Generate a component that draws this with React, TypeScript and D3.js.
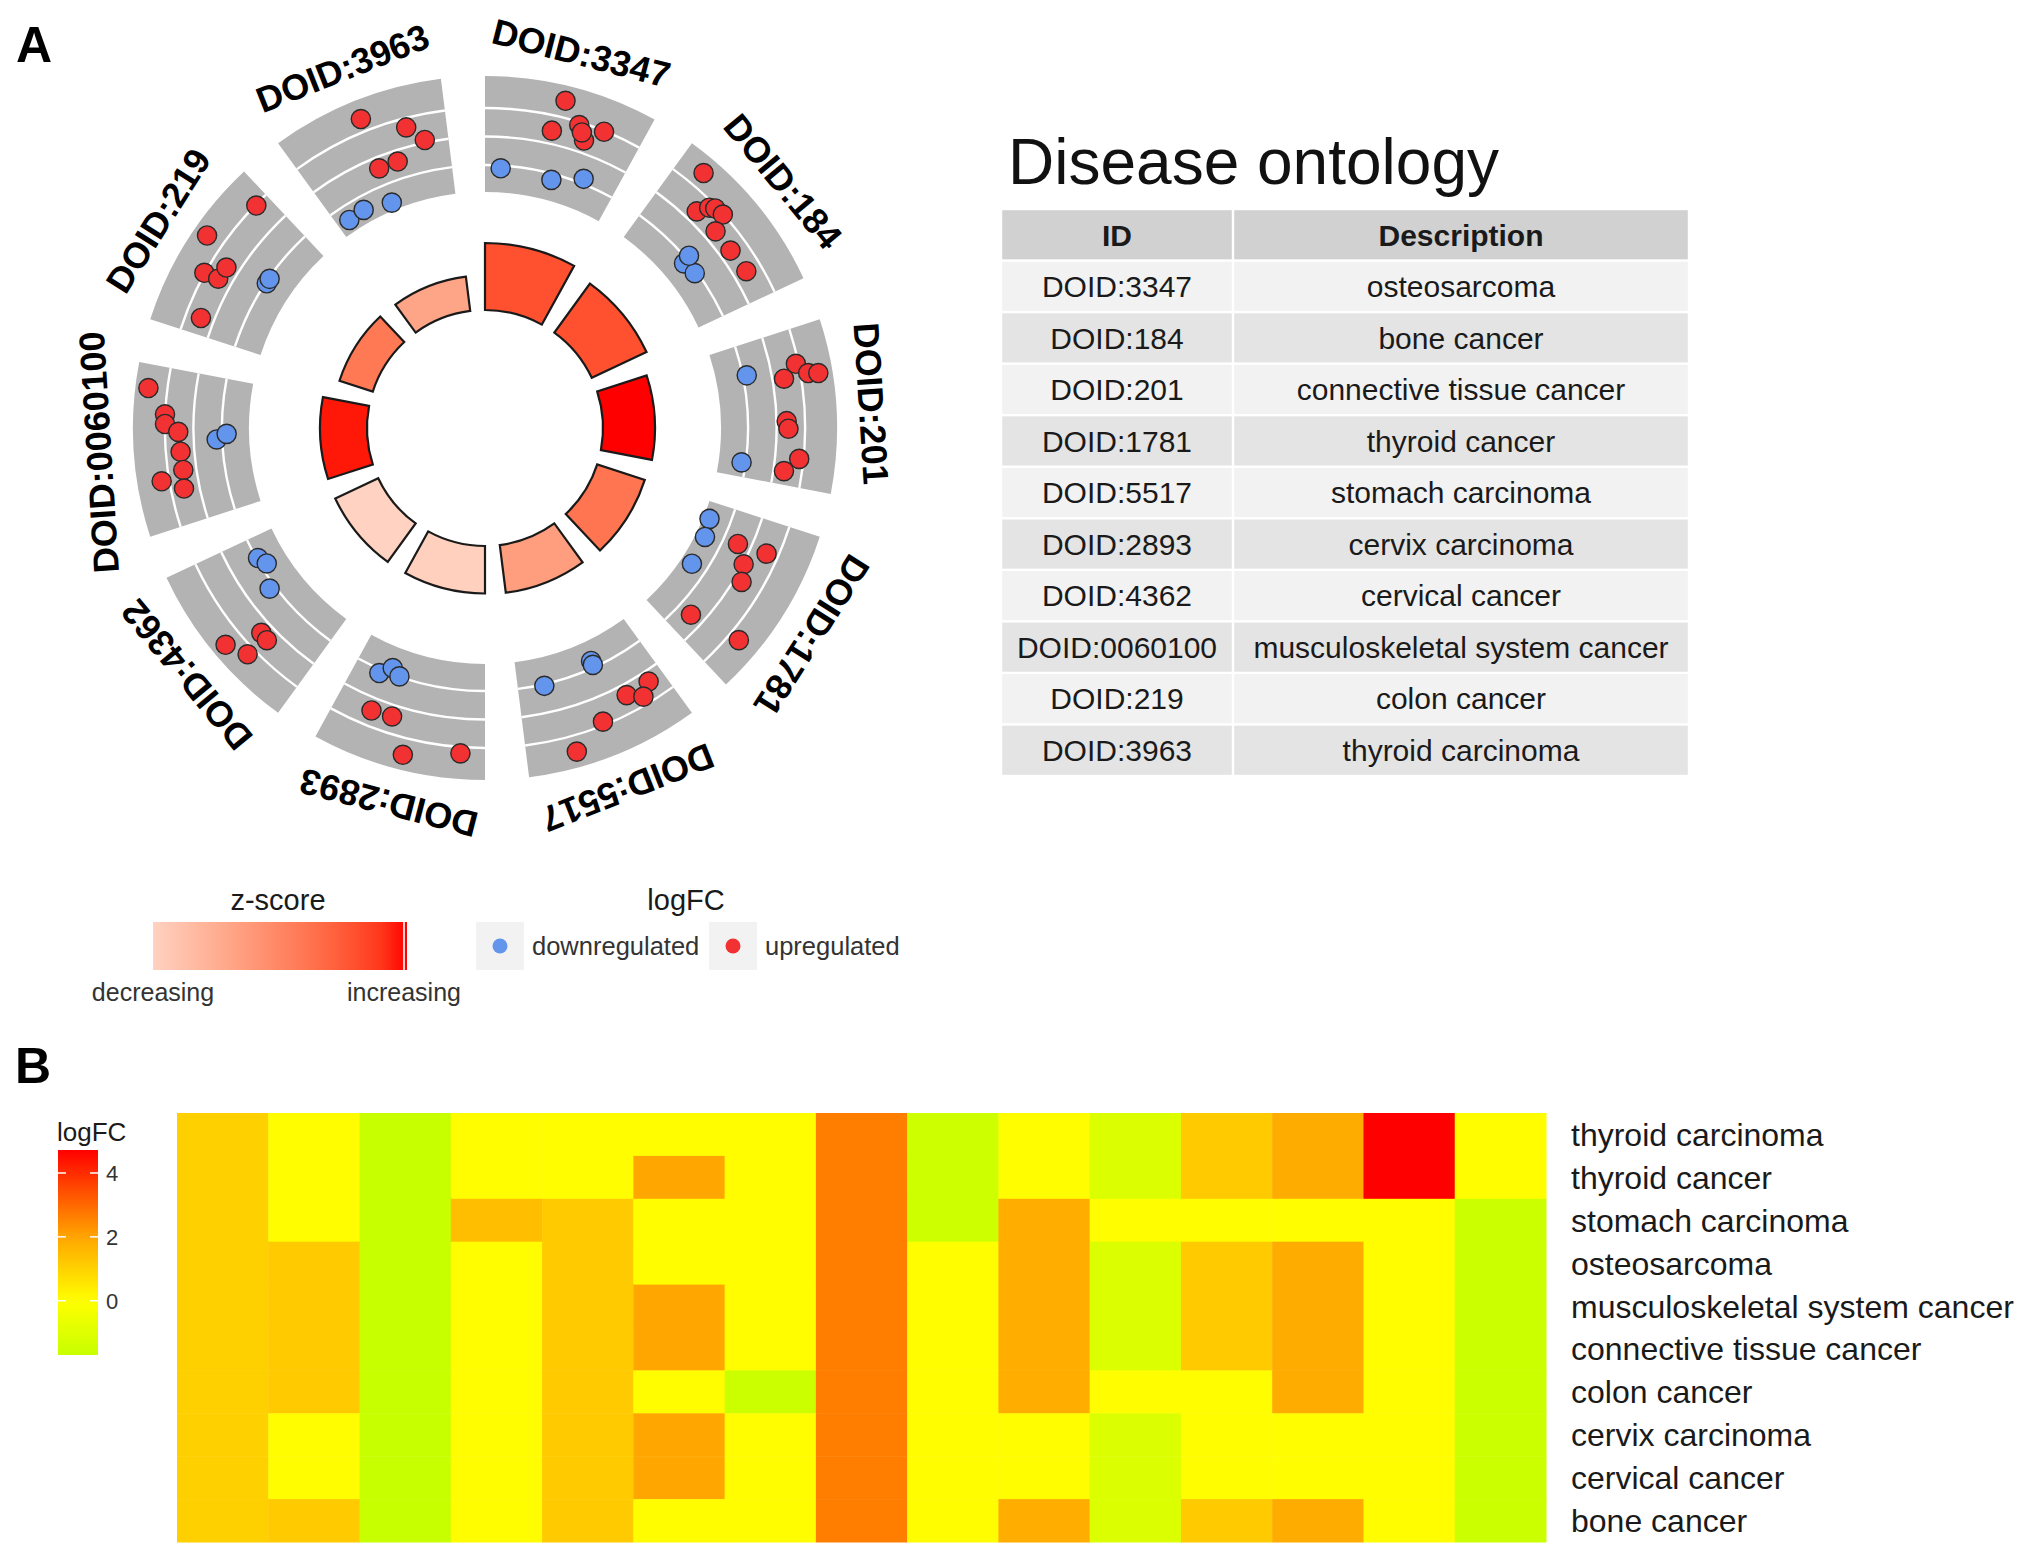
import * as d3 from "d3";

const FONT = "'Liberation Sans', Arial, Helvetica, sans-serif";

// ---------- Panel A: disease ontology terms ----------
const termIds = [
  "DOID:3347", "DOID:184", "DOID:201", "DOID:1781", "DOID:5517",
  "DOID:2893", "DOID:4362", "DOID:0060100", "DOID:219", "DOID:3963",
];
const termDescriptions = [
  "osteosarcoma", "bone cancer", "connective tissue cancer", "thyroid cancer",
  "stomach carcinoma", "cervix carcinoma", "cervical cancer",
  "musculoskeletal system cancer", "colon cancer", "thyroid carcinoma",
];
// -log10(adj. p) -> inner bar height
const termSignificance = [6.7, 6.05, 5.2, 5.0, 4.8, 4.75, 4.75, 4.7, 3.5, 3.45];
// z-score -> inner bar colour
const termZScores = [2.1, 2.1, 2.5, 1.75, 1.27, 0.63, 0.6, 2.45, 1.7, 1.18];

// genes of each term: [slot within the term (0-1), logFC]
const genes3347 = [[0.48, 4.19], [0.44, 1.93], [0.6, 2.81], [0.66, 1.88], [0.76, 2.95], [0.63, 2.37], [0.12, -1.2], [0.52, -1.43], [0.75, -0.65]];
const genes184 = [[0.16, 4.11], [0.29, 1.8], [0.33, 2.6], [0.36, 2.87], [0.42, 2.97], [0.47, 1.81], [0.63, 1.8], [0.8, 1.93], [0.5, -1.33], [0.61, -1.16], [0.48, -0.72]];
const genes201 = [[0.3, 1.81], [0.22, 2.82], [0.29, 3.55], [0.3, 4.25], [0.58, 1.72], [0.63, 1.84], [0.82, 2.7], [0.91, 1.74], [0.23, -0.72], [0.89, -1.29]];
const genes1781 = [[0.23, 0.07], [0.21, 2.18], [0.34, 1.06], [0.45, 1.54], [0.84, 0.05], [0.76, 3.76], [0.14, -2.46], [0.29, -2.23], [0.53, -2.09]];
const genes5517 = [[0.11, 1.72], [0.28, 1.76], [0.19, 2.43], [0.49, 2.75], [0.7, 4.15], [0.4, -1.49], [0.4, -1.19], [0.8, -0.89]];
const genes2893 = [[0.76, 1.91], [0.62, 1.81], [0.49, 4.19], [0.15, 3.44], [0.81, -0.73], [0.73, -1.41], [0.66, -1.02]];
const genes4362 = [[0.4, 1.83], [0.34, 1.9], [0.49, 4.27], [0.36, 3.56], [0.84, -1.1], [0.77, -1.43], [0.6, -0.6]];
const genes0060100 = [[0.86, 4.33], [0.71, 3.02], [0.65, 3.0], [0.6, 2.07], [0.47, 1.97], [0.35, 1.92], [0.3, 3.54], [0.23, 2.09], [0.54, -0.61], [0.58, -1.32]];
const genes219 = [[0.91, 2.93], [0.58, 4.27], [0.38, 3.05], [0.39, 2.0], [0.48, 1.9], [0.11, 1.92], [0.54, -1.08], [0.58, -1.07]];
const genes3963 = [[0.49, 3.91], [0.74, 2.35], [0.84, 1.19], [0.48, 0.22], [0.62, 0.22], [0.1, -2.03], [0.24, -1.94], [0.47, -2.34]];
const termGenes = [genes3347, genes184, genes201, genes1781, genes5517, genes2893, genes4362, genes0060100, genes219, genes3963];

const lfcGridLines = [-1, 1, 3];

// ---------- Panel B: logFC heatmap ----------
const heatmapRows = [
  "thyroid carcinoma", "thyroid cancer", "stomach carcinoma", "osteosarcoma",
  "musculoskeletal system cancer", "connective tissue cancer", "colon cancer",
  "cervix carcinoma", "cervical cancer", "bone cancer",
];
const heatmapValues = [
  [1.05, 0.05, -1.7, 0.05, 0.05, 0.05, 0.05, 2.65, -1.5, 0.05, -1.1, 1.15, 1.85, 4.72, 0.05],
  [1.05, 0.05, -1.7, 0.05, 0.05, 1.95, 0.05, 2.65, -1.5, 0.05, -1.1, 1.15, 1.85, 4.72, 0.05],
  [1.05, 0.05, -1.7, 1.45, 1.15, 0.05, 0.05, 2.65, -1.5, 1.8, 0.05, 0.05, 0.05, 0.05, -1.6],
  [1.05, 1.15, -1.7, 0.05, 1.15, 0.05, 0.05, 2.65, 0.05, 1.8, -1.1, 1.15, 1.85, 0.05, -1.6],
  [1.05, 1.15, -1.7, 0.05, 1.15, 1.95, 0.05, 2.65, 0.05, 1.8, -1.1, 1.15, 1.85, 0.05, -1.6],
  [1.05, 1.15, -1.7, 0.05, 1.15, 1.95, 0.05, 2.65, 0.05, 1.8, -1.1, 1.15, 1.85, 0.05, -1.6],
  [1.05, 1.15, -1.7, 0.05, 1.15, 0.05, -1.6, 2.65, 0.05, 1.8, 0.05, 0.05, 1.85, 0.05, -1.6],
  [1.05, 0.05, -1.7, 0.05, 1.15, 1.95, 0.05, 2.65, 0.05, 0.05, -1.1, 0.05, 0.05, 0.05, -1.6],
  [1.05, 0.05, -1.7, 0.05, 1.15, 1.95, 0.05, 2.65, 0.05, 0.05, -1.1, 0.05, 0.05, 0.05, -1.6],
  [1.05, 1.15, -1.7, 0.05, 1.15, 0.05, 0.05, 2.65, 0.05, 1.8, -1.1, 1.15, 1.85, 0.05, -1.6],
];
const heatLegendBreaks = [0, 2, 4];
const heatColorDomain = [-1.7, 0, 2, 4.72];
const heatColorRange = ["#c8ff00", "#ffff00", "#ffa500", "#ff0000"];

// ---------- geometry ----------
const CX = 485;
const CY = 428;
const RING_IN = 236;
const RING_OUT = 352;
const LABEL_R = 387;

function CircleChart() {
  const angle = d3.scaleBand<string>().domain(termIds).range([0, 2 * Math.PI])
    .paddingInner(0.2).paddingOuter(0.1).align(0);
  const bw = angle.bandwidth();
  const barR = d3.scaleLinear().domain([0, 6.7]).range([118, 185]);
  const lfcR = d3.scaleLinear().domain([-1, 3]).range([263, 320]);
  const zMax = d3.max(termZScores.map(Math.abs)) as number;
  const zColor = d3.scaleLinear<string>().domain([0, zMax]).range(["#ffffff", "#ff0000"]).interpolate(d3.interpolateLab);
  const arc = d3.arc<any>();

  return (
    <g transform={`translate(${CX},${CY})`}>
      {termIds.map((id, i) => {
        const a0 = angle(id) as number;
        const a1 = a0 + bw;
        const mid = ((a0 + bw / 2) * 180) / Math.PI;
        return (
          <g key={id}>
            <path d={arc({ innerRadius: RING_IN, outerRadius: RING_OUT, startAngle: a0, endAngle: a1 }) as string} fill="#b3b3b3" />
            {lfcGridLines.map((v) => (
              <path key={v} d={arc({ innerRadius: lfcR(v) - 1.2, outerRadius: lfcR(v) + 1.2, startAngle: a0, endAngle: a1 }) as string} fill="#ffffff" />
            ))}
            <path
              d={arc({ innerRadius: barR(0), outerRadius: barR(termSignificance[i]), startAngle: a0, endAngle: a1 }) as string}
              fill={zColor(termZScores[i])} stroke="#1a1a1a" strokeWidth={2.2}
            />
            {termGenes[i].map(([slot, lfc], j) => {
              const [x, y] = d3.pointRadial(a0 + slot * bw, lfcR(lfc));
              return (
                <circle key={j} cx={x} cy={y} r={9.6} fill={lfc > 0 ? "#f23232" : "#6495ed"} stroke="#2a2a2a" strokeWidth={1.4} />
              );
            })}
            <text
              transform={`rotate(${mid})`} x={0} y={-LABEL_R} dy="0.35em" textAnchor="middle"
              fontFamily={FONT} fontWeight="bold" fontSize={36} fill="#000"
            >
              {id}
            </text>
          </g>
        );
      })}
    </g>
  );
}

function CircleLegend() {
  const zExtent = d3.extent(termZScores) as [number, number];
  const zMax = d3.max(termZScores.map(Math.abs)) as number;
  const zColor = d3.scaleLinear<string>().domain([0, zMax]).range(["#ffffff", "#ff0000"]).interpolate(d3.interpolateLab);
  const gx = d3.scaleLinear().domain(zExtent).range([156, 404]);
  const stops = d3.range(0, 1.0001, 0.1);
  const keys = [
    { label: "downregulated", color: "#6495ed", x: 476 },
    { label: "upregulated", color: "#f23232", x: 709 },
  ];
  return (
    <g fontFamily={FONT}>
      <defs>
        <linearGradient id="zgrad" x1="0" x2="1" y1="0" y2="0">
          {stops.map((t) => (
            <stop key={t} offset={t} stopColor={zColor(zExtent[0] + t * (zExtent[1] - zExtent[0]))} />
          ))}
        </linearGradient>
      </defs>
      <text x={278} y={910} textAnchor="middle" fontSize={29} fill="#1a1a1a">z-score</text>
      <rect x={153} y={922} width={254} height={48} fill="url(#zgrad)" />
      <line x1={gx(zExtent[1])} x2={gx(zExtent[1])} y1={922} y2={970} stroke="#ffffff" strokeWidth={1.6} />
      <text x={gx(zExtent[0]) - 3} y={1001} textAnchor="middle" fontSize={25} fill="#333">decreasing</text>
      <text x={gx(zExtent[1])} y={1001} textAnchor="middle" fontSize={25} fill="#333">increasing</text>

      <text x={686} y={910} textAnchor="middle" fontSize={29} fill="#1a1a1a">logFC</text>
      {keys.map((k) => (
        <g key={k.label}>
          <rect x={k.x} y={922} width={48} height={48} fill="#f2f2f2" />
          <circle cx={k.x + 24} cy={946} r={7.5} fill={k.color} />
          <text x={k.x + 56} y={955} fontSize={25.5} fill="#333">{k.label}</text>
        </g>
      ))}
    </g>
  );
}

function TermTable() {
  const rowY = d3.scaleBand<string>().domain(["header", ...termIds]).range([209, 776]);
  const cols = [
    { x0: 1001, x1: 1233 },
    { x0: 1233, x1: 1689 },
  ];
  const h = rowY.bandwidth();
  return (
    <g fontFamily={FONT}>
      <text x={1008} y={184} fontSize={64} fill="#111">Disease ontology</text>
      {["header", ...termIds].map((key, r) => {
        const y = rowY(key) as number;
        const fill = r === 0 ? "#d1d1d1" : r % 2 === 1 ? "#f2f2f2" : "#e4e4e4";
        const cells = r === 0 ? ["ID", "Description"] : [key, termDescriptions[r - 1]];
        return (
          <g key={key}>
            {cols.map((c, ci) => (
              <g key={ci}>
                <rect x={c.x0 + 1.2} y={y + 1.2} width={c.x1 - c.x0 - 2.4} height={h - 2.4} fill={fill} />
                <text
                  x={(c.x0 + c.x1) / 2} y={y + h / 2} dy="0.36em" textAnchor="middle"
                  fontSize={30} fontWeight={r === 0 ? "bold" : "normal"} fill="#1a1a1a"
                >
                  {cells[ci]}
                </text>
              </g>
            ))}
          </g>
        );
      })}
    </g>
  );
}

function Heatmap() {
  const cols = d3.range(heatmapValues[0].length);
  const x = d3.scaleBand<number>().domain(cols).range([177, 1546]);
  const y = d3.scaleBand<string>().domain(heatmapRows).range([1113, 1542]);
  const color = d3.scaleLinear<string>().domain(heatColorDomain).range(heatColorRange).interpolate(d3.interpolateRgb);
  const legendY = d3.scaleLinear().domain([heatColorDomain[0], heatColorDomain[3]]).range([1355, 1150]);
  const gradStops = d3.range(0, 1.0001, 0.05);
  return (
    <g fontFamily={FONT}>
      <defs>
        <linearGradient id="hgrad" x1="0" x2="0" y1="1" y2="0">
          {gradStops.map((t) => (
            <stop key={t} offset={t} stopColor={color(heatColorDomain[0] + t * (heatColorDomain[3] - heatColorDomain[0]))} />
          ))}
        </linearGradient>
      </defs>
      {heatmapRows.map((row, r) => (
        <g key={row}>
          {heatmapValues[r].map((v, c) => (
            <rect key={c} x={x(c)} y={y(row)} width={x.bandwidth() + 0.5} height={y.bandwidth() + 0.5} fill={color(v)} />
          ))}
          <text x={1571} y={(y(row) as number) + y.bandwidth() / 2} dy="0.36em" fontSize={32} fill="#1a1a1a">{row}</text>
        </g>
      ))}
      <text x={57} y={1141} fontSize={26} fill="#1a1a1a">logFC</text>
      <rect x={58} y={1150} width={40} height={205} fill="url(#hgrad)" />
      {heatLegendBreaks.map((b) => (
        <g key={b}>
          <line x1={58} x2={66} y1={legendY(b)} y2={legendY(b)} stroke="#fff" strokeWidth={1.5} />
          <line x1={90} x2={98} y1={legendY(b)} y2={legendY(b)} stroke="#fff" strokeWidth={1.5} />
          <text x={106} y={legendY(b)} dy="0.36em" fontSize={22} fill="#333">{b}</text>
        </g>
      ))}
    </g>
  );
}

export default function App() {
  return (
    <svg
      width={2031} height={1559} viewBox="0 0 2031 1559"
      style={{ position: "absolute", left: 0, top: 0, background: "#fff" }}
    >
      <rect width={2031} height={1559} fill="#fff" />
      <text x={16} y={62} fontFamily={FONT} fontWeight="bold" fontSize={50} fill="#000">A</text>
      <text x={15} y={1083} fontFamily={FONT} fontWeight="bold" fontSize={50} fill="#000">B</text>
      <CircleChart />
      <CircleLegend />
      <TermTable />
      <Heatmap />
    </svg>
  );
}
